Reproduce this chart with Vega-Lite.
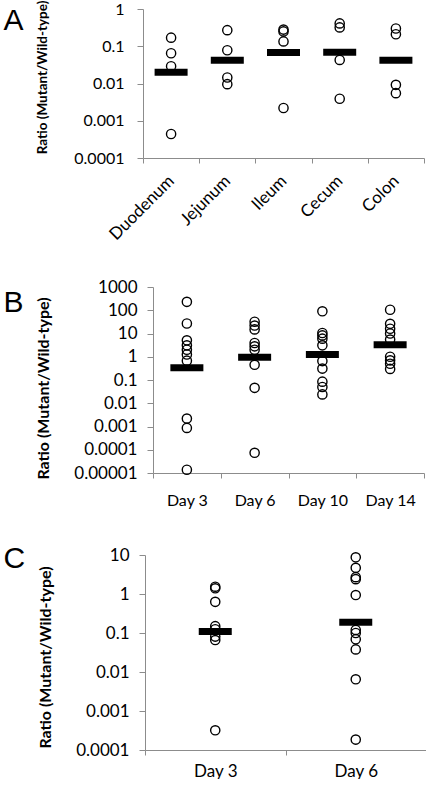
{
  "$schema": "https://vega.github.io/schema/vega-lite/v6.json",
  "padding": {"left": 3, "top": 0, "right": 3, "bottom": 0},
  "spacing": 35,
  "config": {
    "view": {"stroke": null},
    "font": "Lato",
    "axis": {
      "grid": false,
      "domainColor": "#8c8c8c",
      "tickColor": "#8c8c8c",
      "labelColor": "black",
      "labelFont": "Lato",
      "titleFont": "Lato",
      "titleFontWeight": "bold",
      "titleColor": "black"
    },
    "text": {"font": "Liberation Sans", "fontSize": 30, "align": "left", "baseline": "top", "color": "black"}
  },
  "datasets": {
    "a": [
      {"site": "Duodenum", "ratio": 0.17}, {"site": "Duodenum", "ratio": 0.065}, {"site": "Duodenum", "ratio": 0.029}, {"site": "Duodenum", "ratio": 0.00044},
      {"site": "Jejunum", "ratio": 0.27}, {"site": "Jejunum", "ratio": 0.078}, {"site": "Jejunum", "ratio": 0.0145}, {"site": "Jejunum", "ratio": 0.0096},
      {"site": "Ileum", "ratio": 0.28}, {"site": "Ileum", "ratio": 0.25}, {"site": "Ileum", "ratio": 0.135}, {"site": "Ileum", "ratio": 0.0022},
      {"site": "Cecum", "ratio": 0.41}, {"site": "Cecum", "ratio": 0.32}, {"site": "Cecum", "ratio": 0.043}, {"site": "Cecum", "ratio": 0.0039},
      {"site": "Colon", "ratio": 0.30}, {"site": "Colon", "ratio": 0.21}, {"site": "Colon", "ratio": 0.0092}, {"site": "Colon", "ratio": 0.0055}
    ],
    "a_med": [
      {"site": "Duodenum", "ratio": 0.02}, {"site": "Jejunum", "ratio": 0.042}, {"site": "Ileum", "ratio": 0.068}, {"site": "Cecum", "ratio": 0.069}, {"site": "Colon", "ratio": 0.042}
    ],
    "b": [
      {"day": "Day 3", "ratio": 230}, {"day": "Day 3", "ratio": 27}, {"day": "Day 3", "ratio": 5.1}, {"day": "Day 3", "ratio": 3.1}, {"day": "Day 3", "ratio": 2.0}, {"day": "Day 3", "ratio": 1.25}, {"day": "Day 3", "ratio": 0.68}, {"day": "Day 3", "ratio": 0.0022}, {"day": "Day 3", "ratio": 0.00087}, {"day": "Day 3", "ratio": 0.0000138},
      {"day": "Day 6", "ratio": 32}, {"day": "Day 6", "ratio": 22}, {"day": "Day 6", "ratio": 15}, {"day": "Day 6", "ratio": 3.9}, {"day": "Day 6", "ratio": 2.8}, {"day": "Day 6", "ratio": 2.0}, {"day": "Day 6", "ratio": 0.45}, {"day": "Day 6", "ratio": 0.046}, {"day": "Day 6", "ratio": 0.000074},
      {"day": "Day 10", "ratio": 90}, {"day": "Day 10", "ratio": 10.5}, {"day": "Day 10", "ratio": 8.3}, {"day": "Day 10", "ratio": 6}, {"day": "Day 10", "ratio": 3.1}, {"day": "Day 10", "ratio": 0.65}, {"day": "Day 10", "ratio": 0.31}, {"day": "Day 10", "ratio": 0.085}, {"day": "Day 10", "ratio": 0.05}, {"day": "Day 10", "ratio": 0.024},
      {"day": "Day 14", "ratio": 105}, {"day": "Day 14", "ratio": 26}, {"day": "Day 14", "ratio": 16}, {"day": "Day 14", "ratio": 10}, {"day": "Day 14", "ratio": 5.5}, {"day": "Day 14", "ratio": 1.0}, {"day": "Day 14", "ratio": 0.7}, {"day": "Day 14", "ratio": 0.5}, {"day": "Day 14", "ratio": 0.3}
    ],
    "b_med": [
      {"day": "Day 3", "ratio": 0.34}, {"day": "Day 6", "ratio": 0.95}, {"day": "Day 10", "ratio": 1.25}, {"day": "Day 14", "ratio": 3.3}
    ],
    "c": [
      {"day": "Day 3", "ratio": 1.54}, {"day": "Day 3", "ratio": 1.4}, {"day": "Day 3", "ratio": 0.63}, {"day": "Day 3", "ratio": 0.15}, {"day": "Day 3", "ratio": 0.125}, {"day": "Day 3", "ratio": 0.081}, {"day": "Day 3", "ratio": 0.066}, {"day": "Day 3", "ratio": 0.00032},
      {"day": "Day 6", "ratio": 8.7}, {"day": "Day 6", "ratio": 4.7}, {"day": "Day 6", "ratio": 2.7}, {"day": "Day 6", "ratio": 2.4}, {"day": "Day 6", "ratio": 0.94}, {"day": "Day 6", "ratio": 0.12}, {"day": "Day 6", "ratio": 0.10}, {"day": "Day 6", "ratio": 0.069}, {"day": "Day 6", "ratio": 0.038}, {"day": "Day 6", "ratio": 0.0065}, {"day": "Day 6", "ratio": 0.000185}
    ],
    "c_med": [
      {"day": "Day 3", "ratio": 0.11}, {"day": "Day 6", "ratio": 0.19}
    ]
  },
  "vconcat": [
    {
      "spacing": 11,
      "hconcat": [
        {"width": 1, "height": 1, "data": {"values": [{"label": "A"}]}, "mark": {"type": "text", "dy": -4}, "encoding": {"text": {"field": "label", "type": "nominal"}}},
        {
          "width": 281,
          "height": 149,
          "layer": [
            {
              "data": {"name": "a"},
              "mark": {"type": "point", "shape": "circle", "size": 85, "filled": false, "stroke": "black", "strokeWidth": 1.4, "opacity": 1},
              "encoding": {
                "x": {"field": "site", "type": "nominal", "sort": ["Duodenum", "Jejunum", "Ileum", "Cecum", "Colon"], "scale": {"paddingInner": 0, "paddingOuter": 0},
                  "axis": {"title": null, "tickBand": "extent", "tickSize": 5, "labelAngle": -45, "labelAlign": "right", "labelBaseline": "middle", "labelPadding": 15, "labelFontSize": 17}},
                "y": {"field": "ratio", "type": "quantitative", "scale": {"type": "log", "domain": [0.0001, 1], "nice": false},
                  "axis": {"title": "Ratio (Mutant/Wild-type)", "values": [0.0001, 0.001, 0.01, 0.1, 1], "labelExpr": "format(datum.value, '.5~f')", "tickSize": 6, "labelPadding": 13, "labelFontSize": 16, "titleFontSize": 13.5, "titlePadding": 24, "titleY": 68}}
              }
            },
            {
              "data": {"name": "a_med"},
              "mark": {"type": "tick", "size": 33, "thickness": 7, "color": "black", "opacity": 1},
              "encoding": {
                "x": {"field": "site", "type": "nominal", "sort": ["Duodenum", "Jejunum", "Ileum", "Cecum", "Colon"]},
                "y": {"field": "ratio", "type": "quantitative"}
              }
            }
          ]
        }
      ]
    },
    {
      "spacing": 11,
      "hconcat": [
        {"width": 1, "height": 1, "data": {"values": [{"label": "B"}]}, "mark": {"type": "text"}, "encoding": {"text": {"field": "label", "type": "nominal"}}},
        {
          "width": 271,
          "height": 186,
          "layer": [
            {
              "data": {"name": "b"},
              "mark": {"type": "point", "shape": "circle", "size": 85, "filled": false, "stroke": "black", "strokeWidth": 1.4, "opacity": 1},
              "encoding": {
                "x": {"field": "day", "type": "nominal", "sort": ["Day 3", "Day 6", "Day 10", "Day 14"], "scale": {"paddingInner": 0, "paddingOuter": 0},
                  "axis": {"title": null, "tickBand": "extent", "tickSize": 5, "labelAngle": 0, "labelPadding": 14, "labelFontSize": 16}},
                "y": {"field": "ratio", "type": "quantitative", "scale": {"type": "log", "domain": [0.00001, 1000], "nice": false},
                  "axis": {"title": "Ratio (Mutant/Wild-type)", "values": [0.00001, 0.0001, 0.001, 0.01, 0.1, 1, 10, 100, 1000], "labelExpr": "format(datum.value, '.5~f')", "tickSize": 6, "labelPadding": 10, "labelFontSize": 17, "titleFontSize": 16, "titlePadding": 22, "titleY": 101}}
              }
            },
            {
              "data": {"name": "b_med"},
              "mark": {"type": "tick", "size": 33, "thickness": 7, "color": "black", "opacity": 1},
              "encoding": {
                "x": {"field": "day", "type": "nominal", "sort": ["Day 3", "Day 6", "Day 10", "Day 14"]},
                "y": {"field": "ratio", "type": "quantitative"}
              }
            }
          ]
        }
      ]
    },
    {
      "spacing": 11,
      "hconcat": [
        {"width": 1, "height": 1, "data": {"values": [{"label": "C"}]}, "mark": {"type": "text", "dy": -12}, "encoding": {"text": {"field": "label", "type": "nominal"}}},
        {
          "width": 281,
          "height": 195,
          "layer": [
            {
              "data": {"name": "c"},
              "mark": {"type": "point", "shape": "circle", "size": 85, "filled": false, "stroke": "black", "strokeWidth": 1.4, "opacity": 1},
              "encoding": {
                "x": {"field": "day", "type": "nominal", "sort": ["Day 3", "Day 6"], "scale": {"paddingInner": 0, "paddingOuter": 0},
                  "axis": {"title": null, "tickBand": "extent", "tickSize": 5, "labelAngle": 0, "labelPadding": 8, "labelFontSize": 17}},
                "y": {"field": "ratio", "type": "quantitative", "scale": {"type": "log", "domain": [0.0001, 10], "nice": false},
                  "axis": {"title": "Ratio (Mutant/Wild-type)", "values": [0.0001, 0.001, 0.01, 0.1, 1, 10], "labelExpr": "format(datum.value, '.5~f')", "tickSize": 6, "labelPadding": 10, "labelFontSize": 17, "titleFontSize": 16, "titlePadding": 22, "titleY": 102}}
              }
            },
            {
              "data": {"name": "c_med"},
              "mark": {"type": "tick", "size": 33, "thickness": 7, "color": "black", "opacity": 1},
              "encoding": {
                "x": {"field": "day", "type": "nominal", "sort": ["Day 3", "Day 6"]},
                "y": {"field": "ratio", "type": "quantitative"}
              }
            }
          ]
        }
      ]
    }
  ]
}
